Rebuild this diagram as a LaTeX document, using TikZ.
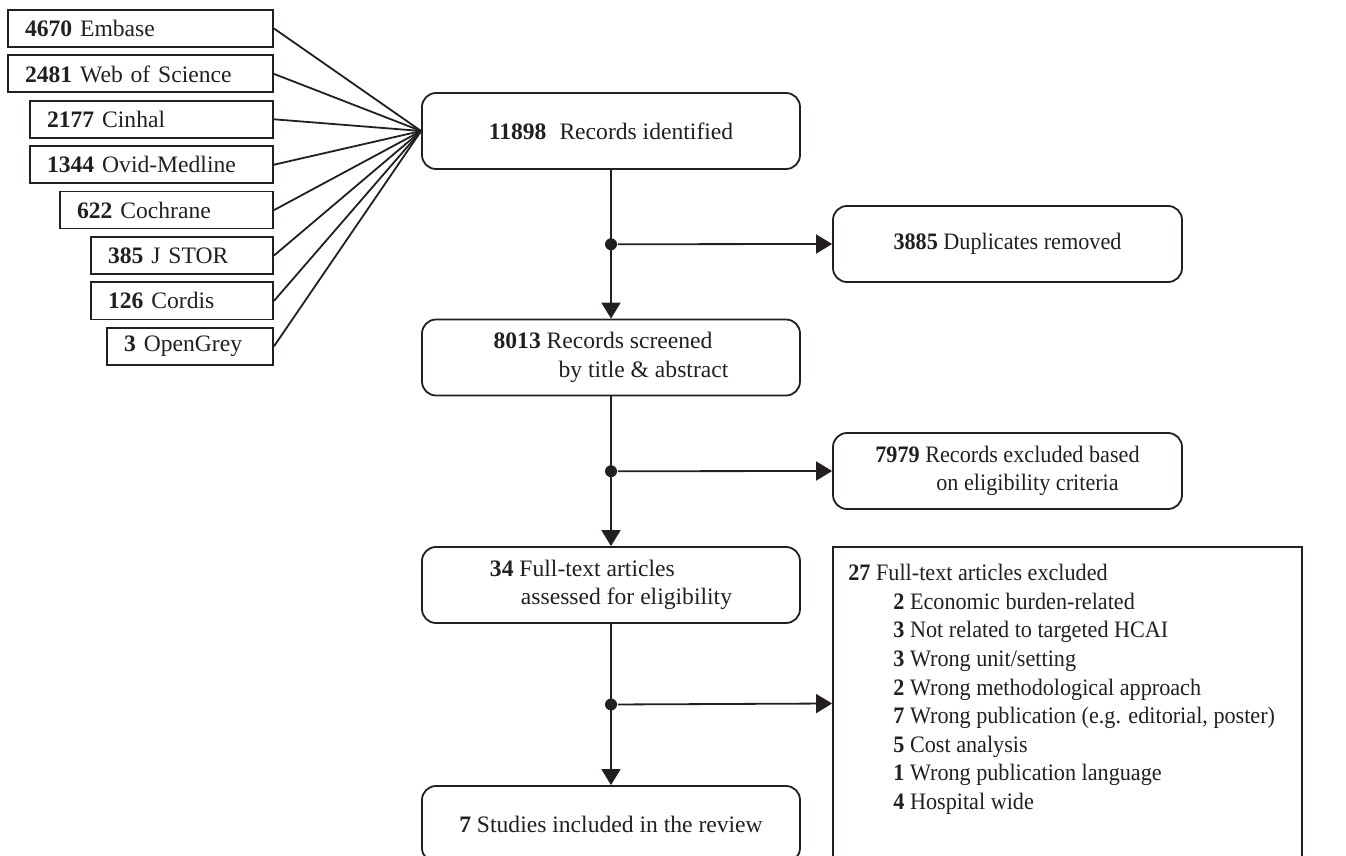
\documentclass[tikz,border=0pt]{standalone}
\usepackage{fontspec}
\setmainfont{Liberation Serif}
\newfontfamily\narrowfont[FakeStretch=0.94]{Liberation Serif}
\usetikzlibrary{arrows.meta,positioning}
\definecolor{ink}{RGB}{35,31,32}

\begin{document}
\begin{tikzpicture}[
		x=0.5pt, y=-0.5pt,
		font=\fontsize{11.8}{14.3}\selectfont,
		every node/.style={text=ink},
		source/.style={draw=ink, line width=0.9pt, anchor=east, minimum height=18.5pt, inner xsep=8.5pt, inner ysep=0pt, align=left},
		stage/.style={draw=ink, line width=0.9pt, rounded corners=7pt, minimum width=189pt, minimum height=38pt, align=left},
		sidebox/.style={stage, minimum width=174.5pt, font=\narrowfont\fontsize{11.8}{14.3}\selectfont},
		dot/.style={circle, fill=ink, inner sep=0pt, minimum size=6pt},
		arrow/.style={draw=ink, line width=0.9pt, -{Triangle[length=8pt, width=9.5pt]}},
		feed/.style={draw=ink, line width=0.9pt}
	]
		\useasboundingbox (0,0) rectangle (1346,856);
		\clip (0,0) rectangle (1346,856);
		% databases
		\node[source, text width=115.5pt] (embase) at (274,28.5) {\textbf{4670} Embase};
		\node[source, text width=115.5pt] (wos) at (274,73.9) {\textbf{2481} Web of Science};
		\node[source, text width=104.5pt] (cinhal) at (274,119.3) {\textbf{2177} Cinhal};
		\node[source, text width=104.5pt] (ovid) at (274,164.7) {\textbf{1344} Ovid-Medline};
		\node[source, text width=89.5pt] (cochrane) at (274,210.1) {\textbf{622} Cochrane};
		\node[source, text width=74pt] (jstor) at (274,255.5) {\textbf{385} J STOR};
		\node[source, text width=74pt] (cordis) at (274,300.9) {\textbf{126} Cordis};
		\node[source, text width=66pt] (opengrey) at (274,346.3) {\textbf{3} OpenGrey};
		% main flow
		\node[stage] (identified) at (611,131) {\textbf{11898}\hspace{0.55em}Records identified};
		\node[stage] (screened) at (611,357.5) {\textbf{8013} Records screened\\\hspace*{32.5pt}by title \& abstract};
		\node[stage] (fulltext) at (611,585) {\textbf{34} Full-text articles\\\hspace*{15.5pt}assessed for eligibility};
		\node[stage] (included) at (611,824) {\textbf{7} Studies included in the review};
		% exclusions
		\node[sidebox] (duplicates) at (1007.5,244) {\textbf{3885} Duplicates removed};
		\node[sidebox] (excluded) at (1007.5,471) {\textbf{7979} Records excluded based\\\hspace*{30.5pt}on eligibility criteria};
		\node[draw=ink, line width=0.9pt, minimum width=234.5pt, minimum height=156.5pt] (fullexcl) at (1067.5,703.5) {};
		\node[anchor=north west, inner sep=0pt, align=left, font=\narrowfont\fontsize{11.8}{14.3}\selectfont] (reasons) at (848,564) {\textbf{27} Full-text articles excluded\\
			\hspace*{22.5pt}\textbf{2} Economic burden-related\\
			\hspace*{22.5pt}\textbf{3} Not related to targeted HCAI\\
			\hspace*{22.5pt}\textbf{3} Wrong unit/setting\\
			\hspace*{22.5pt}\textbf{2} Wrong methodological approach\\
			\hspace*{22.5pt}\textbf{7} Wrong publication (e.g. editorial, poster)\\
			\hspace*{22.5pt}\textbf{5} Cost analysis\\
			\hspace*{22.5pt}\textbf{1} Wrong publication language\\
			\hspace*{22.5pt}\textbf{4} Hospital wide};
		% connectors
		\foreach \src in {embase,wos,cinhal,ovid,cochrane,jstor,cordis,opengrey}
			\draw[feed] (\src.east) -- (identified.west);
		\draw[arrow] (identified) -- node[dot] (d1) {} (screened);
		\draw[arrow] (screened) -- node[dot] (d2) {} (fulltext);
		\draw[arrow] (fulltext) -- node[dot] (d3) {} (included);
		\draw[arrow] (d1) -- (duplicates.west);
		\draw[arrow] (d2) -- (excluded.west);
		\draw[arrow] (d3) -- (fullexcl.west);
	\end{tikzpicture}
\end{document}
